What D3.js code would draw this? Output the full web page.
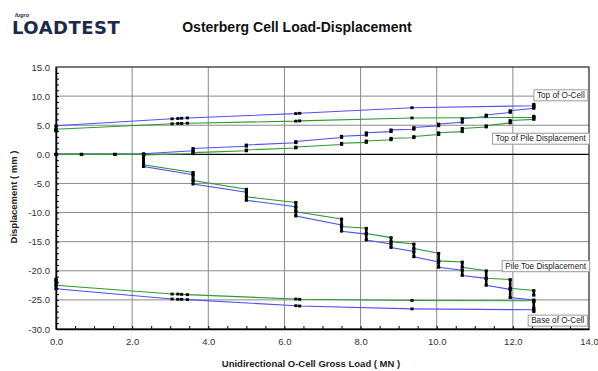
<!DOCTYPE html>
<html>
<head>
<meta charset="utf-8">
<script src="https://cdn.jsdelivr.net/npm/d3@7"></script>
<style>
  body { margin: 0; background: #fff; }
  svg { display: block; font-family: "Liberation Sans", Arial, sans-serif; }
</style>
</head>
<body>
<div class="canvas"></div>
<script>
// load steps (MN) shared by the pile top / toe readings
const pileLoad = [0, 0.67, 1.55, 2.3, 2.3, 3.6, 3.6, 5.0, 5.0, 6.3, 6.3, 7.5, 7.5, 8.15, 8.15,
  8.8, 8.8, 9.4, 9.4, 10.05, 10.05, 10.67, 10.67, 11.3, 11.3, 11.93, 11.93, 12.55, 12.55];
const topPileBlue = [0, 0, 0, 0, 0.1, 0.6, 1.0, 1.4, 1.6, 2.0, 2.2, 2.9, 3.1, 3.3, 3.7,
  3.9, 4.2, 4.3, 4.6, 4.9, 5.2, 5.5, 6.1, 6.5, 6.75, 7.2, 7.5, 7.9, 8.2];
const topPileGreen = [0, 0, 0, 0, -0.1, 0.1, 0.3, 0.6, 0.75, 1.1, 1.25, 1.7, 1.9, 2.05, 2.3,
  2.5, 2.75, 2.85, 3.05, 3.4, 3.7, 3.9, 4.45, 4.7, 4.9, 5.4, 5.8, 6.0, 6.3];
const toeBlue = [0, 0, 0, 0, -2.1, -3.5, -5.1, -6.5, -7.9, -9.0, -10.6, -12.15, -13.2, -13.7, -14.7,
  -15.4, -16.0, -16.7, -17.6, -18.5, -19.4, -19.9, -20.8, -21.3, -22.5, -23.2, -24.6, -25.0, -26.4];
const toeGreen = [0, 0, 0, 0, -1.8, -3.1, -4.5, -6.0, -7.3, -8.25, -9.85, -11.1, -12.4, -12.7, -13.6,
  -14.3, -15.0, -15.4, -16.2, -17.0, -18.3, -18.5, -19.4, -20.0, -21.3, -21.5, -23.0, -23.4, -24.2];

// O-cell readings
const cellLoad = [0, 0, 3.05, 3.2, 3.3, 3.45, 6.3, 6.4, 9.35, 12.55, 12.55];
const topCellBlue = [4.1, 4.9, 6.1, 6.15, 6.2, 6.25, 7.0, 7.05, 8.0, 8.35, 8.6];
const topCellGreen = [4.0, 4.3, 5.25, 5.3, 5.3, 5.35, 5.7, 5.75, 6.25, 6.35, 6.55];
const baseCellBlue = [-21.8, -23.1, -24.85, -24.9, -24.9, -24.95, -26.0, -26.05, -26.55, -26.7, -27.0];
const baseCellGreen = [-21.4, -22.5, -24.0, -24.0, -24.05, -24.1, -24.85, -24.9, -25.1, -25.15, -25.3];

const xTicks = [0, 2, 4, 6, 8, 10, 12, 14];
const yTicks = [15, 10, 5, 0, -5, -10, -15, -20, -25, -30];

const labelText = ["Top of O-Cell", "Top of Pile Displacement", "Pile Toe Displacement", "Base of O-Cell"];
const labelLoad = [13.26, 12.73, 12.86, 13.18];
const labelDisp = [10.2, 2.75, -19.15, -28.5];

const blue = "#5252f2";
const green = "#2f9a36";

const dims = { width: 598, height: 371 };
const plot = { left: 56, right: 589, top: 67, bottom: 329 };

const svg = d3.select(".canvas").append("svg")
  .attr("width", dims.width)
  .attr("height", dims.height);

const x = d3.scaleLinear().domain([0, 14]).range([plot.left, plot.right]);
const y = d3.scaleLinear().domain([-30, 15]).range([plot.bottom, plot.top]);

// logo
const logo = svg.append("g");
logo.append("text").attr("x", 15).attr("y", 17)
  .attr("font-size", 5.5).attr("font-style", "italic").attr("font-weight", "bold")
  .attr("fill", "#1c2a48").text("fugro");
logo.append("text").attr("x", 12).attr("y", 34)
  .attr("font-family", "DejaVu Sans").attr("font-size", 18).attr("font-weight", "bold")
  .attr("letter-spacing", 0.5).attr("fill", "#1c2a48").text("LOADTEST");

// title
svg.append("text").attr("x", 297).attr("y", 32)
  .attr("text-anchor", "middle").attr("font-size", 14).attr("font-weight", "bold")
  .attr("fill", "#111").text("Osterberg Cell Load-Displacement");

// grid
const grid = svg.append("g");
grid.selectAll(".vg").data(xTicks.slice(1, -1)).join("line")
  .attr("x1", (d) => x(d)).attr("x2", (d) => x(d))
  .attr("y1", plot.top).attr("y2", plot.bottom)
  .attr("stroke", "#8a8a8a").attr("stroke-width", 1);
grid.selectAll(".hg").data(yTicks.filter((d) => d !== 15 && d !== -30 && d !== 0)).join("line")
  .attr("x1", plot.left).attr("x2", plot.right)
  .attr("y1", (d) => y(d)).attr("y2", (d) => y(d))
  .attr("stroke", "#8a8a8a").attr("stroke-width", 1);
grid.append("line")
  .attr("x1", plot.left).attr("x2", plot.right)
  .attr("y1", y(0)).attr("y2", y(0))
  .attr("stroke", "#000").attr("stroke-width", 1.3);

// frame
svg.append("rect")
  .attr("x", plot.left).attr("y", plot.top)
  .attr("width", plot.right - plot.left).attr("height", plot.bottom - plot.top)
  .attr("fill", "none").attr("stroke", "#222").attr("stroke-width", 1.2);

// axes
const fmt = (d) => d.toFixed(1);
const xAxis = svg.append("g").attr("transform", `translate(0,${plot.bottom})`)
  .call(d3.axisBottom(x).tickValues(xTicks).tickFormat(fmt).tickSize(0).tickPadding(9));
const yAxis = svg.append("g").attr("transform", `translate(${plot.left},0)`)
  .call(d3.axisLeft(y).tickValues(yTicks).tickFormat(fmt).tickSize(0).tickPadding(6));
[xAxis, yAxis].forEach((a) => {
  a.select(".domain").attr("stroke", "#000").attr("stroke-width", 1.5);
  a.selectAll("text").attr("font-size", 9.5).attr("fill", "#333")
    .attr("font-family", "Liberation Sans, Arial, sans-serif");
});

// minor ticks, drawn inside the plot
svg.append("g").attr("transform", `translate(0,${plot.bottom})`)
  .call(d3.axisBottom(x).tickValues(d3.range(0.5, 14, 0.5)).tickFormat("").tickSize(-3))
  .call((g) => g.select(".domain").remove())
  .selectAll("line").attr("stroke", "#000");
svg.append("g").attr("transform", `translate(${plot.left},0)`)
  .call(d3.axisLeft(y).tickValues(d3.range(-29, 15, 1)).tickFormat("").tickSize(-3))
  .call((g) => g.select(".domain").remove())
  .selectAll("line").attr("stroke", "#000");

// axis titles
svg.append("text")
  .attr("transform", `translate(17,${(plot.top + plot.bottom) / 2 - 1}) rotate(-90)`)
  .attr("text-anchor", "middle").attr("font-size", 9.5).attr("font-weight", "bold")
  .attr("fill", "#222").text("Displacement  ( mm )");
svg.append("text").attr("x", 311).attr("y", 367)
  .attr("text-anchor", "middle").attr("font-size", 9.5).attr("font-weight", "bold")
  .attr("fill", "#222").text("Unidirectional O-Cell Gross Load  ( MN )");

// series
const toPoints = (loads, disps) => loads.map((l, i) => ({ load: l, disp: disps[i] }));
const series = [
  { pts: toPoints(pileLoad, toeBlue), color: blue },
  { pts: toPoints(pileLoad, topPileBlue), color: blue },
  { pts: toPoints(cellLoad, topCellBlue), color: blue },
  { pts: toPoints(cellLoad, baseCellBlue), color: blue },
  { pts: toPoints(pileLoad, toeGreen), color: green },
  { pts: toPoints(pileLoad, topPileGreen), color: green },
  { pts: toPoints(cellLoad, topCellGreen), color: green },
  { pts: toPoints(cellLoad, baseCellGreen), color: green },
];

const line = d3.line().x((d) => x(d.load)).y((d) => y(d.disp));
const graph = svg.append("g");

graph.selectAll(".series").data(series).join("path")
  .attr("d", (d) => line(d.pts))
  .attr("fill", "none")
  .attr("stroke", (d) => d.color)
  .attr("stroke-width", 1.1);

// load holds: creep readings stacked on top of each other
const holds = [];
series.forEach((s) => {
  s.pts.forEach((p, i) => {
    if (i > 0 && s.pts[i - 1].load === p.load) holds.push([s.pts[i - 1], p]);
  });
});
graph.selectAll(".hold").data(holds).join("line")
  .attr("x1", (d) => x(d[0].load)).attr("x2", (d) => x(d[1].load))
  .attr("y1", (d) => y(d[0].disp)).attr("y2", (d) => y(d[1].disp))
  .attr("stroke", "#000").attr("stroke-width", 2.6);

graph.selectAll(".mark").data(series.flatMap((s) => s.pts)).join("rect")
  .attr("x", (d) => x(d.load) - 1.6).attr("y", (d) => y(d.disp) - 1.4)
  .attr("width", 3.2).attr("height", 2.8)
  .attr("fill", "#000");

// labels
const labels = svg.append("g");
labelText.forEach((t, i) => {
  const g = labels.append("g")
    .attr("transform", `translate(${x(labelLoad[i])},${y(labelDisp[i])})`);
  const txt = g.append("text")
    .attr("text-anchor", "middle").attr("dy", "0.35em")
    .attr("font-size", 8.2).attr("fill", "#222").text(t);
  const bb = txt.node().getBBox();
  g.insert("rect", "text")
    .attr("x", bb.x - 3).attr("y", bb.y - 1)
    .attr("width", bb.width + 6).attr("height", bb.height + 2)
    .attr("fill", "#fff").attr("stroke", "#999").attr("stroke-width", 1);
});
</script>
</body>
</html>
